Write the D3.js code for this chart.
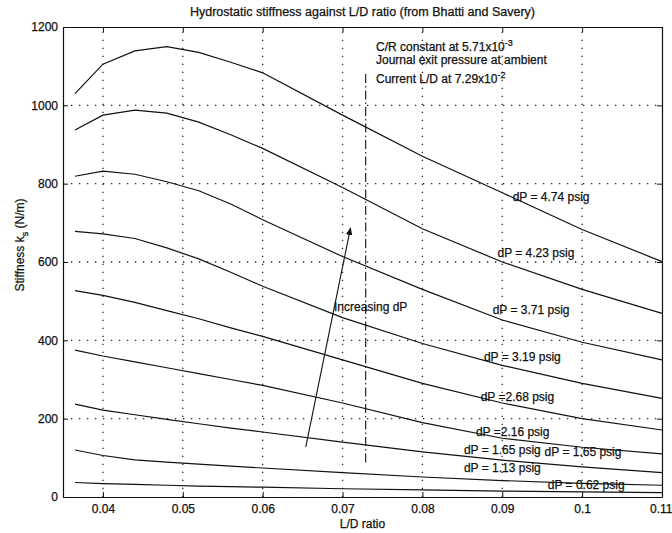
<!DOCTYPE html>
<html>
<head>
<meta charset="utf-8">
<script src="https://cdn.jsdelivr.net/npm/d3@7"></script>
<style>
  body { margin: 0; background: #fff; }
  text { font-family: "Liberation Sans", Arial, sans-serif; fill: #111; stroke: #111; stroke-width: 0.25px; }
</style>
</head>
<body>
<div id="id_graph"></div>
<script>
// L/D ratio sample points (x) shared by every curve
var ldRatio = [0.0365, 0.04, 0.044, 0.048, 0.052, 0.056, 0.06, 0.07, 0.08, 0.09, 0.1, 0.11];

// stiffness (N/m) for each supply pressure
var s474 = [1030, 1105, 1139, 1150, 1135, 1110, 1083, 975, 870, 777, 683, 601];
var s423 = [937, 975, 988, 980, 957, 925, 890, 790, 685, 600, 530, 469];
var s371 = [819, 832, 824, 805, 782, 748, 708, 614, 530, 452, 395, 350];
var s319 = [678, 672, 660, 636, 608, 574, 538, 458, 392, 336, 290, 252];
var s268 = [527, 515, 497, 476, 455, 432, 410, 350, 290, 240, 200, 171];
var s216 = [375, 360, 345, 330, 315, 300, 285, 240, 190, 150, 127, 110];
var s165 = [237, 222, 210, 198, 187, 176, 166, 140, 115, 94, 77, 62];
var s113 = [120, 106, 95, 89, 84, 79, 74, 62, 51, 42, 35, 30];
var s062 = [37, 34, 32, 30, 28, 26.5, 25, 21, 18, 15, 13, 11];

var series = [s474, s423, s371, s319, s268, s216, s165, s113, s062];

// curve labels: text, L/D where it starts, stiffness at its baseline
var labelText = ["dP = 4.74 psig", "dP = 4.23 psig", "dP = 3.71 psig", "dP = 3.19 psig", "dP =2.68 psig",
                 "dP =2.16 psig", "dP = 1.65 psig", "dP = 1.65 psig", "dP = 1.13 psig", "dP = 0.62 psig"];
var labelX = [0.0913, 0.0894, 0.0888, 0.0877, 0.0873, 0.0867, 0.0852, 0.0953, 0.0852, 0.0957];
var labelY = [756, 613, 467, 347, 245, 156, 110, 105, 64, 20];

var xTicks = [0.04, 0.05, 0.06, 0.07, 0.08, 0.09, 0.1, 0.11];
var yTicks = [0, 200, 400, 600, 800, 1000, 1200];

var currentLD = 0.0729;
var arrowFrom = [0.0654, 128];
var arrowTo = [0.071, 687];

var W = 672, H = 533;
var margin = {top: 27, right: 10, bottom: 36, left: 63};

var x = d3.scaleLinear()
    .domain([0.035, 0.11])
    .range([margin.left, W - margin.right]);

var y = d3.scaleLinear()
    .domain([0, 1200])
    .range([H - margin.bottom, margin.top]);

var svg = d3.select("#id_graph")
    .append("svg")
    .attr("width", W)
    .attr("height", H);

svg.append("defs").append("marker")
    .attr("id", "head")
    .attr("viewBox", "0 0 10 10")
    .attr("refX", 9).attr("refY", 5)
    .attr("markerWidth", 8).attr("markerHeight", 8)
    .attr("markerUnits", "userSpaceOnUse")
    .attr("orient", "auto")
    .append("path")
    .attr("d", "M0,1L10,5L0,9Z")
    .style("fill", "#111");

// dotted grid
svg.append("g")
    .selectAll("line")
    .data(xTicks.slice(0, -1))
    .enter()
    .append("line")
    .attr("x1", function (d) { return x(d); })
    .attr("x2", function (d) { return x(d); })
    .attr("y1", y(0)).attr("y2", y(1200))
    .style("stroke", "#222").style("stroke-width", 1.3)
    .style("stroke-dasharray", "1.3,6.7");

svg.append("g")
    .selectAll("line")
    .data(yTicks.slice(1, -1))
    .enter()
    .append("line")
    .attr("x1", x(0.035)).attr("x2", x(0.11))
    .attr("y1", function (d) { return y(d); })
    .attr("y2", function (d) { return y(d); })
    .style("stroke", "#222").style("stroke-width", 1.3)
    .style("stroke-dasharray", "1.3,6.7");

// axes, ticks pointing inward like matlab
var xAxis = svg.append("g")
    .attr("transform", "translate(0," + y(0) + ")")
    .call(d3.axisBottom(x).tickValues(xTicks).tickSizeInner(-5).tickSizeOuter(0).tickPadding(7)
        .tickFormat(function (d) { return String(+d.toFixed(2)); }));

// last label sits flush against the right edge
xAxis.selectAll(".tick text")
    .filter(function (d) { return d === 0.11; })
    .attr("text-anchor", "end")
    .attr("dx", 10);

svg.append("g")
    .attr("transform", "translate(0," + y(1200) + ")")
    .call(d3.axisTop(x).tickValues(xTicks).tickSizeInner(-5).tickSizeOuter(0).tickFormat(""));

svg.append("g")
    .attr("transform", "translate(" + x(0.035) + ",0)")
    .call(d3.axisLeft(y).tickValues(yTicks).tickSizeInner(-5).tickSizeOuter(0).tickPadding(5)
        .tickFormat(d3.format("d")));

svg.append("g")
    .attr("transform", "translate(" + x(0.11) + ",0)")
    .call(d3.axisRight(y).tickValues(yTicks).tickSizeInner(-5).tickSizeOuter(0).tickFormat(""));

svg.selectAll(".domain").style("stroke", "#111").style("stroke-width", 1.2);
svg.selectAll(".tick line").style("stroke", "#111");
svg.selectAll(".tick text").style("font-size", "12px").style("font-family", "'Liberation Sans', Arial, sans-serif");

// curves
var line = d3.line()
    .x(function (d, i) { return x(ldRatio[i]); })
    .y(function (d) { return y(d); });

svg.append("g")
    .selectAll("path")
    .data(series)
    .enter()
    .append("path")
    .attr("d", line)
    .style("fill", "none")
    .style("stroke", "#111")
    .style("stroke-width", 1.2);

// current L/D marker
svg.append("line")
    .attr("x1", x(currentLD)).attr("x2", x(currentLD))
    .attr("y1", y(1080)).attr("y2", y(85))
    .style("stroke", "#111").style("stroke-width", 1.1)
    .style("stroke-dasharray", "9,3,1.5,3");

// curve labels
svg.append("g")
    .selectAll("text")
    .data(labelText)
    .enter()
    .append("text")
    .attr("x", function (d, i) { return x(labelX[i]); })
    .attr("y", function (d, i) { return y(labelY[i]); })
    .style("font-size", "12px")
    .text(function (d) { return d; });

// arrow + note
svg.append("line")
    .attr("x1", x(arrowFrom[0])).attr("y1", y(arrowFrom[1]))
    .attr("x2", x(arrowTo[0])).attr("y2", y(arrowTo[1]))
    .style("stroke", "#111").style("stroke-width", 1.1)
    .attr("marker-end", "url(#head)");

svg.append("text")
    .attr("x", 334).attr("y", 311)
    .style("font-size", "12px")
    .text("Increasing dP");

var note = svg.append("text")
    .attr("x", 376).attr("y", 51)
    .style("font-size", "12px");
note.append("tspan").text("C/R constant at 5.71x10");
note.append("tspan").attr("dy", -5).style("font-size", "9px").text("-3");
note.append("tspan").attr("x", 376).attr("dy", 18).text("Journal exit pressure at ambient");
note.append("tspan").attr("x", 376).attr("dy", 19).text("Current L/D at 7.29x10");
note.append("tspan").attr("dy", -5).style("font-size", "9px").text("-2");

// titles
svg.append("text")
    .attr("x", (margin.left + W - margin.right) / 2).attr("y", 16)
    .attr("text-anchor", "middle")
    .style("font-size", "12.5px")
    .text("Hydrostatic stiffness against L/D ratio (from Bhatti and Savery)");

svg.append("text")
    .attr("x", (margin.left + W - margin.right) / 2).attr("y", 528)
    .attr("text-anchor", "middle")
    .style("font-size", "12px")
    .text("L/D ratio");

var ylab = svg.append("text")
    .attr("transform", "translate(24," + 245 + ") rotate(-90)")
    .attr("text-anchor", "middle")
    .style("font-size", "12px");
ylab.append("tspan").text("Stiffness k");
ylab.append("tspan").attr("dy", 4).style("font-size", "9px").text("s");
ylab.append("tspan").attr("dy", -4).text(" (N/m)");
</script>
</body>
</html>
